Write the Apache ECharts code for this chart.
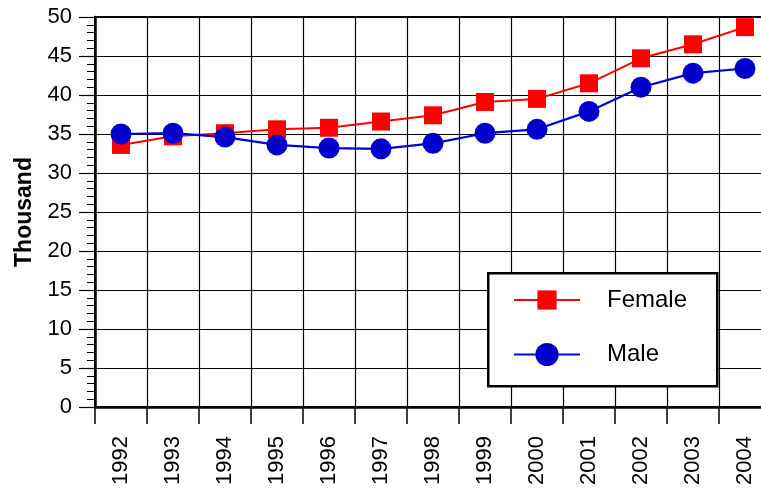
<!DOCTYPE html>
<html>
<head>
<meta charset="utf-8">
<script src="https://cdn.jsdelivr.net/npm/echarts@6/dist/echarts.min.js"></script>
<style>
html,body{margin:0;padding:0;background:#fff;}
#c{width:761px;height:494px;}
</style>
</head>
<body>
<div id="c"></div>
<script>
const years = ['1992','1993','1994','1995','1996','1997','1998','1999','2000','2001','2002','2003','2004'];
const female = [33.6, 34.7, 35.1, 35.6, 35.8, 36.6, 37.4, 39.1, 39.5, 41.5, 44.7, 46.5, 48.7];
const male = [35.0, 35.1, 34.6, 33.6, 33.2, 33.1, 33.8, 35.1, 35.6, 37.9, 41.0, 42.8, 43.4];
const yTicks = [0, 50, 5];
const seriesNames = ['Female', 'Male'];

const FONT = 'Liberation Sans, Arial, sans-serif';
const chart = echarts.init(document.getElementById('c'), null, {renderer: 'canvas'});
chart.setOption({
  animation: false,
  backgroundColor: '#ffffff',
  grid: {
    left: 95, top: 17, width: 676, height: 390,
    outerBoundsMode: 'none',
    show: true, borderColor: '#000', borderWidth: 2, backgroundColor: 'transparent',
    containLabel: false
  },
  xAxis: {
    type: 'category',
    data: years,
    boundaryGap: true,
    axisLine: {show: true, lineStyle: {color: '#000', width: 2.5}},
    axisTick: {show: true, length: 17, lineStyle: {color: '#000', width: 1.5}},
    axisLabel: {rotate: 90, margin: 29, color: '#000', fontSize: 22, fontFamily: FONT, interval: 0},
    splitLine: {show: true, lineStyle: {color: '#000', width: 1.2}}
  },
  yAxis: {
    type: 'value',
    min: yTicks[0], max: yTicks[1], interval: yTicks[2],
    name: 'Thousand',
    nameLocation: 'middle',
    nameRotate: 90,
    nameGap: 56,
    nameTextStyle: {color: '#000', fontSize: 23, fontWeight: 'bold', fontFamily: FONT},
    axisLine: {show: true, lineStyle: {color: '#000', width: 2.5}},
    axisTick: {show: true, length: 16, lineStyle: {color: '#000', width: 1.2}},
    minorTick: {show: true, splitNumber: 5, length: 8, lineStyle: {color: '#000', width: 1}},
    axisLabel: {margin: 23, color: '#000', fontSize: 22, fontFamily: FONT},
    splitLine: {show: true, lineStyle: {color: '#000', width: 1.2}}
  },
  graphic: [{
    type: 'rect',
    left: 487, top: 272,
    shape: {width: 229, height: 113},
    style: {fill: '#fff', stroke: '#000', lineWidth: 2.5},
    z: 10
  }],
  legend: [{
    data: [seriesNames[0]],
    left: 513, top: 288,
    itemWidth: 66, itemHeight: 24,
    padding: 0,
    textStyle: {color: '#000', fontSize: 24, fontFamily: FONT, padding: [0,0,0,22]},
    z: 20
  }, {
    data: [seriesNames[1]],
    left: 513, top: 342.5,
    itemWidth: 66, itemHeight: 29,
    padding: 0,
    textStyle: {color: '#000', fontSize: 24, fontFamily: FONT, padding: [0,0,0,22]},
    z: 20
  }],
  series: [{
    name: seriesNames[0],
    type: 'line',
    data: female,
    symbol: 'rect',
    symbolSize: 18,
    itemStyle: {color: '#ff0000'},
    lineStyle: {color: '#ff0000', width: 2},
    z: 3
  }, {
    name: seriesNames[1],
    type: 'line',
    data: male,
    symbol: 'circle',
    symbolSize: 21,
    itemStyle: {color: '#0000cc'},
    lineStyle: {color: '#0000dd', width: 2.2},
    z: 4
  }]
});
</script>
</body>
</html>
